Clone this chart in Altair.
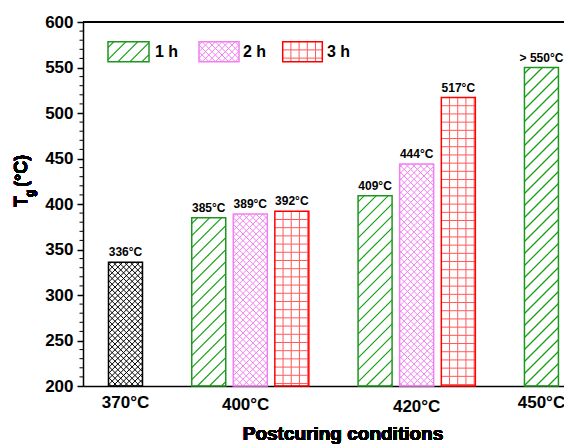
import altair as alt
import pandas as pd

# ---------------- data ----------------
temps = ["370°C", "400°C", "420°C", "450°C"]
temp_label_slot = [1.0, 1.963, 3.333, 4.333]
temp_label_drop = [22.3, 24.0, 26.3, 21.7]      # px below the axis line

bar_temp = ["370°C", "400°C", "400°C", "400°C", "420°C", "420°C", "420°C", "450°C"]
bar_time = ["ref", "1 h", "2 h", "3 h", "1 h", "2 h", "3 h", "1 h"]
bar_slot = [1.0, 1.667, 2.0, 2.333, 3.0, 3.333, 3.667, 4.333]
tg = [336, 385, 389, 392, 409, 444, 517, 550]
bar_label = ["336°C", "385°C", "389°C", "392°C", "409°C", "444°C", "517°C", "> 550°C"]

legend_series = ["1 h", "2 h", "3 h"]
y_ticks = list(range(200, 601, 50))
y_minor = [v for v in range(200, 601, 10) if v % 50]

# ---------------- layout ----------------
W, H = 481, 364
XMIN, XMAX = 0.6595, 4.5137
YMIN, YMAX = 200, 600
KX = W / (XMAX - XMIN)
KY = H / (YMAX - YMIN)
BAR_W = 34 / KX
FONT = "Liberation Sans"

series_dom = ["ref", "1 h", "2 h", "3 h"]
line_col = {"ref": "#000000", "1 h": "#14a014", "2 h": "#f27ff2", "3 h": "#ff5a5a"}
line_w = {"ref": 1.0, "1 h": 1.2, "2 h": 1.0, "3 h": 1.0}
edge_col = {"ref": "#000000", "1 h": "#1f951f", "2 h": "#f27ff2", "3 h": "#ff0000"}
hatch_kind = {"ref": "x", "1 h": "/", "2 h": "x", "3 h": "+"}
hatch_sp = {"ref": 5.7, "1 h": 12.0, "2 h": 6.6, "3 h": 8.2}


def hatch_segments(px0, px1, py0, py1, kind, sp):
    w, h = px1 - px0, py1 - py0
    segs = []
    if kind in ("/", "x"):
        c = -h + sp / 2
        while c < w:
            xa, xb = max(0.0, c), min(w, c + h)
            if xb > xa:
                segs.append((xa, xa - c, xb, xb - c))
            c += sp
    if kind in ("\\", "x"):
        c = sp / 2
        while c < w + h:
            xa, xb = max(0.0, c - h), min(w, c)
            if xb > xa:
                segs.append((xa, c - xa, xb, c - xb))
            c += sp
    if kind == "+":
        x = sp
        while x < w - 1:
            segs.append((x, 0, x, h))
            x += sp
        y = h - sp
        while y > 1:
            segs.append((0, y, w, y))
            y -= sp
    return [(px0 + a, py0 + b, px0 + c, py0 + d) for a, b, c, d in segs]


def to_dx(px):
    return XMIN + px / KX


def to_dy(py):
    return YMIN + py / KY


# rectangles: bars (from data) + legend boxes (layout)
rects = []
for s, t, v in zip(bar_slot, bar_time, tg):
    rects.append(dict(series=t, x0=s - BAR_W / 2, x1=s + BAR_W / 2, y0=YMIN, y1=v))
legend_px = [(25, 66), (116, 156), (199.7, 239.3)]
for name, (a, b) in zip(legend_series, legend_px):
    rects.append(dict(series=name, x0=to_dx(a), x1=to_dx(b), y0=to_dy(H - 39.7), y1=to_dy(H - 19.7)))
rect_df = pd.DataFrame(rects)

hatch_rows = []
for r in rects:
    px0, px1 = (r["x0"] - XMIN) * KX, (r["x1"] - XMIN) * KX
    py0, py1 = (r["y0"] - YMIN) * KY, (r["y1"] - YMIN) * KY
    for a, b, c, d in hatch_segments(px0, px1, py0, py1, hatch_kind[r["series"]], hatch_sp[r["series"]]):
        hatch_rows.append(dict(series=r["series"], x=to_dx(a), y=to_dy(b), x2=to_dx(c), y2=to_dy(d)))
hatch_df = pd.DataFrame(hatch_rows)

bars_df = pd.DataFrame(dict(temp=bar_temp, series=bar_time, slot=bar_slot, tg=tg, label=bar_label))
cat_df = pd.DataFrame(dict(temp=temps, slot=temp_label_slot,
                           y=[YMIN - d / KY for d in temp_label_drop]))
leg_text_df = pd.DataFrame(dict(series=legend_series,
                                x=[to_dx(p) for p in (72, 160, 244)],
                                y=[to_dy(H - 35.3)] * 3))
minor_df = pd.DataFrame(dict(v=y_minor))

# ---------------- encodings ----------------
xscale = alt.Scale(domain=[XMIN, XMAX], nice=False, zero=False)
yscale = alt.Scale(domain=[YMIN, YMAX], nice=False, zero=False)
xaxis = alt.Axis(labels=False, ticks=False, title=None, grid=False, domain=True,
                 domainColor="black", domainWidth=1.5)
yaxis = alt.Axis(values=y_ticks, title=None, grid=False, tickSize=6, tickWidth=1.5,
                 tickColor="black", domainColor="black", domainWidth=1.5,
                 labelFont=FONT, labelFontSize=17, labelFontWeight="bold",
                 labelColor="black", labelPadding=4)


def X(f):
    return alt.X(f, type="quantitative", scale=xscale, axis=xaxis)


def Y(f):
    return alt.Y(f, type="quantitative", scale=yscale, axis=yaxis)


layers = []
for s in series_dom:
    layers.append(
        alt.Chart(hatch_df).transform_filter(alt.datum.series == s)
        .mark_rule(strokeWidth=line_w[s], color=line_col[s], stroke=line_col[s])
        .encode(x=X("x"), y=Y("y"), x2="x2", y2="y2")
    )
for s in series_dom:
    layers.append(
        alt.Chart(rect_df).transform_filter(alt.datum.series == s)
        .mark_rect(fill="white", fillOpacity=0, stroke=edge_col[s], strokeWidth=1.5)
        .encode(x=X("x0"), x2="x1", y=Y("y0"), y2="y1")
    )

value_labels = alt.Chart(bars_df).mark_text(
    font=FONT, fontSize=12, fontWeight="bold", color="black", dy=-6, baseline="alphabetic"
).encode(x=X("slot"), y=Y("tg"), text="label")

cat_labels = alt.Chart(cat_df).mark_text(
    font=FONT, fontSize=17, fontWeight="bold", color="black", baseline="alphabetic"
).encode(x=X("slot"), y=Y("y"), text="temp")

leg_text = alt.Chart(leg_text_df).mark_text(
    font=FONT, fontSize=16, fontWeight="bold", color="black", align="left", baseline="alphabetic"
).encode(x=X("x"), y=Y("y"), text="series")

minor = alt.Chart(minor_df).mark_rule(color="black", strokeWidth=1).encode(
    y=Y("v"), x=alt.value(0), x2=alt.value(-3.5)
)

top_line = alt.Chart(minor_df).mark_rule(color="black", strokeWidth=1.5).encode(
    x=alt.value(0), x2=alt.value(W), y=alt.value(0)
)

x_title = alt.Chart(minor_df).mark_text(
    text="Postcuring conditions", font=FONT, fontSize=19, fontWeight="bold",
    color="black", baseline="alphabetic"
).encode(x=alt.value(260), y=alt.value(418))

t_main = alt.Chart(minor_df).mark_text(
    text="T", font=FONT, fontSize=18, fontWeight="bold", color="black",
    angle=270, align="left", baseline="alphabetic"
).encode(x=alt.value(-55.7), y=alt.value(185))
t_sub = alt.Chart(minor_df).mark_text(
    text="g", font=FONT, fontSize=12, fontWeight="bold", color="black",
    angle=270, align="left", baseline="alphabetic"
).encode(x=alt.value(-49), y=alt.value(175))
t_unit = alt.Chart(minor_df).mark_text(
    text="(°C)", font=FONT, fontSize=18, fontWeight="bold", color="black",
    angle=270, align="left", baseline="alphabetic"
).encode(x=alt.value(-55.7), y=alt.value(165))

chart = alt.layer(
    *layers, value_labels, cat_labels, leg_text, minor, top_line,
    x_title, t_main, t_sub, t_unit
).properties(
    width=W, height=H,
    autosize=alt.AutoSizeParams(type="none"),
    padding={"left": 75, "top": 14, "right": 0, "bottom": 60},
    background="white",
).configure_view(stroke=None)

chart.save("out.html", embed_options={"renderer": "svg", "actions": False})
